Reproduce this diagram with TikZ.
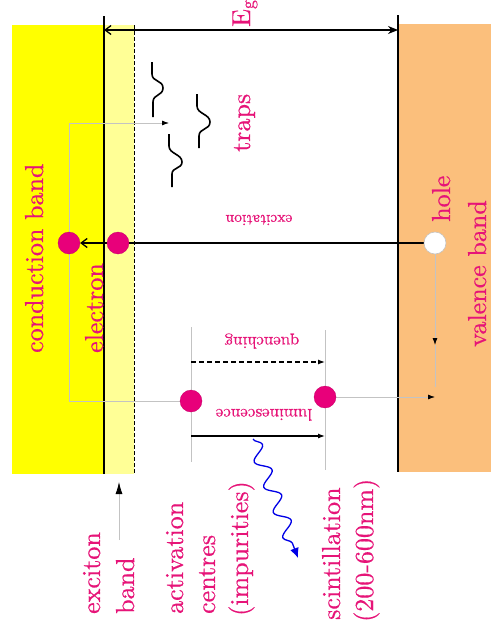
\documentclass[tikz,border=0pt]{standalone}
\usepackage{fontspec}
\newfontfamily\lblfont{lmroman10-regular.otf}[FakeBold=0.5]
\usetikzlibrary{arrows.meta,decorations.pathmorphing}
\definecolor{lbl}{RGB}{230,20,120}
\definecolor{dotc}{RGB}{232,0,122}
\definecolor{cband}{RGB}{255,255,0}
\definecolor{exband}{RGB}{255,255,150}
\definecolor{vband}{RGB}{251,191,124}
\definecolor{guidec}{RGB}{195,195,195}
\definecolor{wavec}{RGB}{0,0,230}
\pgfdeclarelayer{bg}
\pgfsetlayers{bg,main}
\begin{document}
\begin{tikzpicture}[x=1pt,y=-1pt,
  lab/.style={text=lbl,font=\lblfont\fontsize{26}{30}\selectfont,inner sep=0pt},
  vlab/.style={lab,rotate=90,anchor=base west},
  smlab/.style={text=lbl,font=\lblfont\fontsize{17}{20}\selectfont,inner sep=0pt,rotate=180,anchor=base},
  edgeline/.style={black,line width=1.5pt},
  guide/.style={guidec,line width=0.8pt},
  dotnode/.style={circle,fill=dotc,draw=dotc!85!black,line width=0.3pt,minimum size=22pt,inner sep=0pt},
  holenode/.style={circle,fill=white,draw=guidec,line width=0.6pt,minimum size=22pt,inner sep=0pt},
  trap/.style={black,line width=1.6pt},
  tip/.style={-{Latex[black,length=7pt,width=5pt]}}
]
\useasboundingbox (0,0) rectangle (491,629);

% particles
\node[dotnode] (e1) at (69,243) {};
\node[dotnode] (e2) at (118,243) {};
\node[holenode] (h) at (435,243) {};
\node[dotnode] (a1) at (191,401) {};
\node[dotnode] (a2) at (325,397) {};

% coordinates
\coordinate (cbtop) at (104,30);
\coordinate (vbtop) at (398,30);
\coordinate (gtop) at (69,123);
\coordinate (trapin) at (169,123);
\coordinate (gbot) at (69,401);
\coordinate (hmid) at (435,345);
\coordinate (hend) at (435,387);
\coordinate (vbin) at (435,397);
\coordinate (q1) at (191,362);
\coordinate (q2) at (325,362);
\coordinate (l1) at (191,436);
\coordinate (l2) at (325,436);
\coordinate (w1) at (253,439);
\coordinate (w2) at (298,558);
\coordinate (xa) at (119,540);
\coordinate (xb) at (119,482);

\begin{pgfonlayer}{bg}
% bands
\fill[cband] (12,25) rectangle (104,474);
\fill[exband] (104,25) rectangle (134,474);
\fill[vband] (398,24) rectangle (491,472);
\draw[edgeline] (104,16) -- (104,474);
\draw[edgeline] (398,15) -- (398,472);
\draw[black,line width=1pt,dash pattern=on 4pt off 2pt] (134,25) -- (134,474);

% guide lines
\draw[guide] (191,327) -- (191,462);
\draw[guide] (325,330) -- (325,470);
\draw[guide,tip] (e1.north) -- (gtop) -- (trapin);
\draw[guide] (e1.south) -- (gbot) -- (a1.west);
\draw[guide,tip] (h.south) -- (hmid);
\draw[guide] (hmid) -- (hend);
\draw[guide,tip] (a2.east) -- (vbin);

% excitation
\draw[black,line width=1.3pt,-{Straight Barb[length=6pt,width=9pt]}] (h.west) -- (e1.east);
\end{pgfonlayer}

% E_g arrow
\draw[black,line width=1.3pt,{Straight Barb[length=6pt,width=9pt]}-{Stealth[length=10pt,width=8pt]}] (cbtop) -- (vbtop);

% quenching and luminescence
\draw[black,line width=1.2pt,dash pattern=on 5pt off 3pt,tip] (q1) -- (q2);
\draw[black,line width=1.2pt,tip] (l1) -- (l2);

% traps
\draw[trap] (152,62) -- (152,74) .. controls (152,82) and (163,80) .. (163,88)
  .. controls (163,96) and (153,94) .. (153,102) -- (153,117);
\draw[trap] (197,94) -- (197,106) .. controls (197,114) and (210,114) .. (210,122)
  .. controls (210,130) and (199,128) .. (199,136) -- (199,148);
\draw[trap] (169,134) -- (169,146) .. controls (169,154) and (182,154) .. (182,162)
  .. controls (182,169) and (172,167) .. (172,174) -- (172,187);

% scintillation photon
\draw[wavec,line width=1.3pt,-{Latex[length=10pt,width=9pt]},decorate,
  decoration={snake,amplitude=7pt,segment length=27pt,post length=9pt}] (w1) -- (w2);

% exciton pointer
\draw[guide,-{Latex[black,length=12pt,width=7pt]}] (xa) -- (xb);

% labels
\node[vlab] (tEg) at (250,27) {E\textsubscript{g}};
\node[vlab] (tcond) at (43,353) {conduction band};
\node[vlab] (telec) at (103,353) {electron};
\node[vlab] (ttraps) at (250,152) {traps};
\node[vlab] (thole) at (450,222) {hole};
\node[vlab] (tval) at (486,347) {valence band};
\node[smlab,font=\lblfont\fontsize{15.5}{18}\selectfont] (texc) at (259,215) {excitation};
\node[smlab] (tq) at (262,337) {quenching};
\node[smlab] (tl) at (264,409) {luminescence};
\node[vlab] (tx1) at (100,614) {exciton};
\node[vlab] (tx2) at (134,614) {band};
\node[vlab] (ta1) at (183,614) {activation};
\node[vlab] (ta2) at (215,614) {centres};
\node[vlab] (ta3) at (248,616) {(impurities)};
\node[vlab] (ts1) at (340,620) {scintillation};
\node[vlab] (ts2) at (373,622) {(200-600nm)};
\end{tikzpicture}
\end{document}
